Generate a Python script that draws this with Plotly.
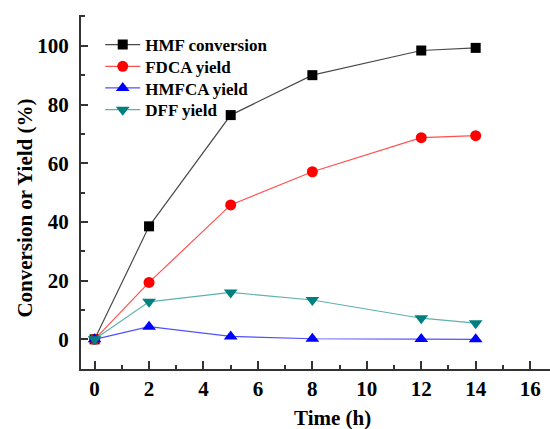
import plotly.graph_objects as go

time_h = [0, 2, 5, 8, 12, 14]
hmf_conversion = [0, 38.5, 76.4, 90.0, 98.4, 99.3]
fdca_yield = [0, 19.4, 45.8, 57.1, 68.7, 69.4]
hmfca_yield = [0, 4.3, 1.0, 0.2, 0.1, 0.0]
dff_yield = [0, 12.8, 16.0, 13.4, 7.2, 5.5]

x_ticks = [0, 2, 4, 6, 8, 10, 12, 14, 16]
y_ticks = [0, 20, 40, 60, 80, 100]

FONT = "Liberation Serif, Times New Roman, serif"

series = [
    ("HMF conversion", hmf_conversion, "#000000", "#4a4a4a", "square", 10),
    ("FDCA yield", fdca_yield, "#ff0000", "#ff5050", "circle", 11),
    ("HMFCA yield", hmfca_yield, "#0000ff", "#5050ff", "triangle-up", 12),
    ("DFF yield", dff_yield, "#007f7f", "#5fb0b0", "triangle-down", 12),
]
legend_ids = ["legend", "legend2", "legend3", "legend4"]
legend_rows_y = [0.9152, 0.8538, 0.7928, 0.7314]

fig = go.Figure()
for (name, vals, mc, lc, sym, sz), lid in zip(series, legend_ids):
    fig.add_trace(go.Scatter(
        x=time_h, y=vals, name=name, mode="lines+markers",
        line=dict(color=lc, width=1.2),
        marker=dict(symbol=sym, size=sz, color=mc, line=dict(width=0)),
        legend=lid,
    ))

legend_font = dict(family=FONT, size=17, weight="bold", color="black")
legend_layout = {}
for lid, ly in zip(legend_ids, legend_rows_y):
    legend_layout[lid] = dict(
        x=0.041, y=ly, xanchor="left", yanchor="middle",
        bgcolor="rgba(0,0,0,0)", borderwidth=0,
        font=legend_font, itemwidth=35,
    )

fig.update_layout(
    width=550, height=429,
    margin=dict(l=81, r=0, t=15, b=60),
    paper_bgcolor="white", plot_bgcolor="white",
    font=dict(family=FONT, color="black"),
    showlegend=True,
    annotations=[
        dict(text="Time (h)", xref="paper", yref="paper", x=0.5355, y=-0.139,
             xanchor="center", yanchor="middle", showarrow=False,
             font=dict(family=FONT, size=21, weight="bold", color="black")),
        dict(text="Conversion or Yield (%)", xref="paper", yref="paper",
             x=-0.1187, y=0.454, textangle=-90,
             xanchor="center", yanchor="middle", showarrow=False,
             font=dict(family=FONT, size=21, weight="bold", color="black")),
    ],
    **legend_layout,
)

fig.update_xaxes(
    automargin=False,
    range=[-0.5, 16.73], tickvals=x_ticks, ticktext=[str(v) for v in x_ticks],
    showgrid=False, zeroline=False,
    showline=True, linecolor="#333333", linewidth=2,
    ticks="inside", ticklen=8, tickwidth=1.5, tickcolor="#333333",
    minor=dict(dtick=1, ticks="inside", ticklen=4, tickwidth=1.5, tickcolor="#333333", showgrid=False),
    tickfont=dict(family=FONT, size=21, weight="bold", color="black"),
    ticklabelstandoff=0,
)
fig.update_yaxes(
    automargin=False,
    range=[-10.1, 110.5], tickvals=y_ticks, ticktext=[str(v) for v in y_ticks],
    showgrid=False, zeroline=False,
    showline=True, linecolor="#333333", linewidth=2,
    ticks="inside", ticklen=7, tickwidth=1.5, tickcolor="#333333",
    minor=dict(dtick=10, ticks="inside", ticklen=4, tickwidth=1.5, tickcolor="#333333", showgrid=False),
    tickfont=dict(family=FONT, size=21, weight="bold", color="black"),
    ticklabelstandoff=6,
)

fig.write_html(
    "out.html",
    config={"displayModeBar": False},
    post_script="document.body.style.margin='0';document.body.style.overflow='hidden';",
)
